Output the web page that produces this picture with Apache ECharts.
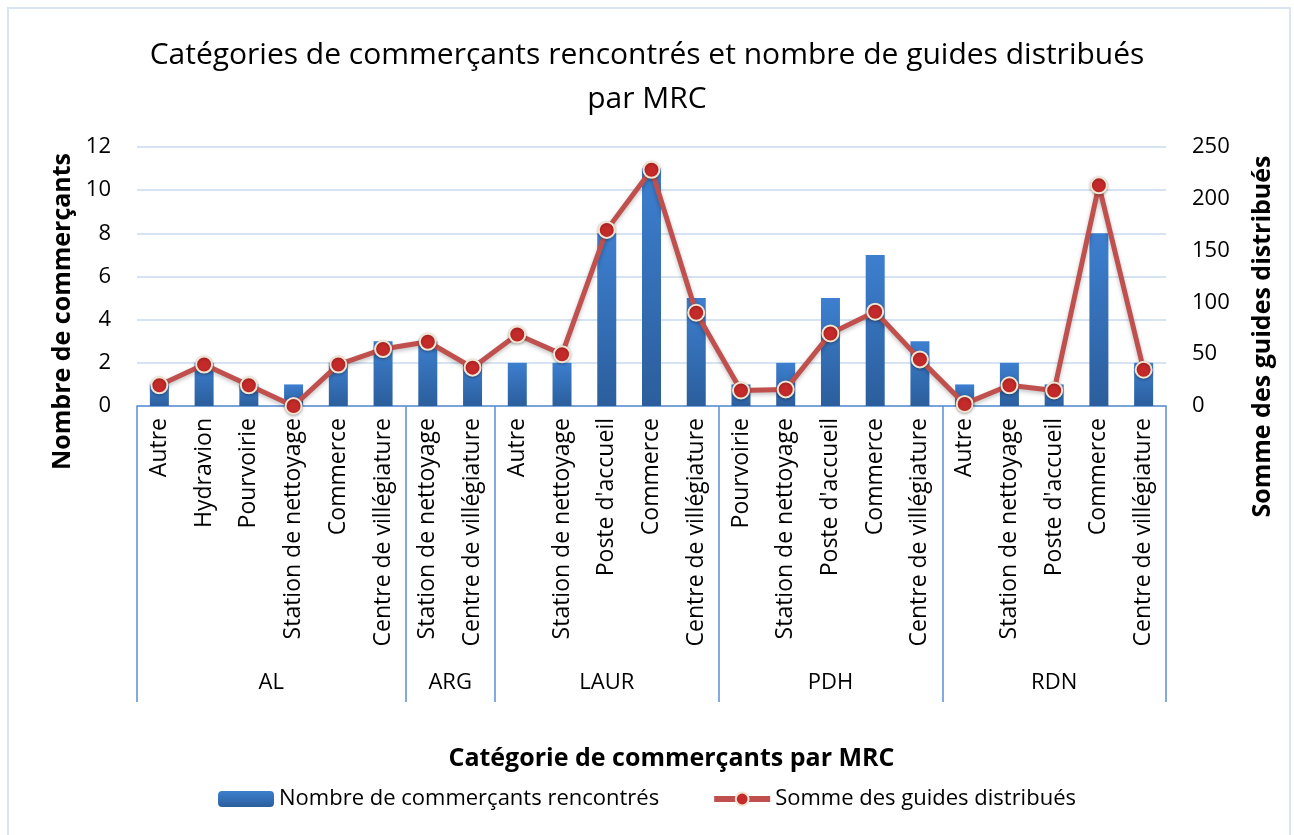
<!DOCTYPE html>
<html>
<head>
<meta charset="utf-8">
<script src="https://cdn.jsdelivr.net/npm/echarts@6/dist/echarts.min.js"></script>
<style>
  html, body { margin: 0; padding: 0; background: #ffffff; }
  #chart { width: 1294px; height: 835px; }
</style>
</head>
<body>
<div id="chart"></div>
<script>
const categories = [
  "Autre", "Hydravion", "Pourvoirie", "Station de nettoyage", "Commerce", "Centre de villégiature",
  "Station de nettoyage", "Centre de villégiature",
  "Autre", "Station de nettoyage", "Poste d'accueil", "Commerce", "Centre de villégiature",
  "Pourvoirie", "Station de nettoyage", "Poste d'accueil", "Commerce", "Centre de villégiature",
  "Autre", "Station de nettoyage", "Poste d'accueil", "Commerce", "Centre de villégiature"
];
const groupNames = ["AL", "ARG", "LAUR", "PDH", "RDN"];
const groupSizes = [6, 2, 5, 5, 5];
const commercants = [1, 2, 1, 1, 2, 3, 3, 2, 2, 2, 8, 11, 5, 1, 2, 5, 7, 3, 1, 2, 1, 8, 2];
const guides = [20, 40, 20, 0, 40, 55, 62, 37, 69, 50, 170, 228, 90, 15, 16, 70, 91, 45, 2, 20, 15, 213, 35];
const leftTicks = { min: 0, max: 12, interval: 2 };
const rightTicks = { min: 0, max: 250, interval: 50 };

const FONT = "Open Sans";
const BOX = "#5b8fd3";

// group boundaries and centres on a 0..n value axis laid over the category axis
var bounds = [0];
var centers = [];
for (var i = 0; i < groupSizes.length; i++) {
  var start = bounds[bounds.length - 1];
  centers.push(start + groupSizes[i] / 2);
  bounds.push(start + groupSizes[i]);
}

var chart = echarts.init(document.getElementById("chart"));
chart.setOption({
  backgroundColor: "#ffffff",
  animation: false,
  textStyle: { fontFamily: FONT, color: "#000000" },
  title: {
    text: "Catégories de commerçants rencontrés et nombre de guides distribués\npar MRC",
    left: "center",
    top: 28,
    textStyle: {
      fontFamily: FONT,
      fontWeight: "normal",
      fontSize: 30,
      lineHeight: 44,
      color: "#000000"
    }
  },
  graphic: [
    {
      type: "rect",
      shape: { x: 8, y: 8, width: 1282, height: 840 },
      style: { fill: null, stroke: "#dbe5f1", lineWidth: 2 },
      silent: true
    }
  ],
  legend: {
    bottom: 20,
    left: "center",
    itemGap: 52,
    itemWidth: 56,
    itemHeight: 16,
    textStyle: { fontFamily: FONT, fontSize: 22, color: "#000000" },
    data: [
      { name: "Nombre de commerçants rencontrés" },
      {
        name: "Somme des guides distribués",
        lineStyle: { width: 6, color: "#c0504d" },
        itemStyle: { color: "#c42a29", borderColor: "#f1e4d2", borderWidth: 2 }
      }
    ]
  },
  grid: {
    left: 137,
    right: 128,
    top: 147,
    bottom: 429,
    containLabel: false,
    outerBoundsMode: "none"
  },
  xAxis: [
    {
      type: "category",
      data: categories,
      position: "bottom",
      axisLine: { lineStyle: { color: BOX, width: 1.5 } },
      axisTick: { show: false },
      axisLabel: {
        interval: 0,
        rotate: 90,
        margin: 12,
        fontFamily: FONT,
        fontSize: 23,
        color: "#000000"
      }
    },
    {
      type: "value",
      position: "bottom",
      min: 0,
      max: bounds[bounds.length - 1],
      name: "Catégorie de commerçants par MRC",
      nameLocation: "middle",
      nameGap: 340,
      nameTextStyle: {
        fontFamily: FONT,
        fontSize: 25,
        fontWeight: "bold",
        color: "#000000",
        padding: [0, 0, 0, 40]
      },
      splitLine: { show: false },
      axisLine: { show: false },
      axisTick: {
        show: true,
        customValues: bounds,
        length: 296,
        lineStyle: { color: BOX, width: 1.5 }
      },
      axisLabel: {
        customValues: centers,
        margin: 266,
        fontFamily: FONT,
        fontSize: 22,
        color: "#000000",
        formatter: function (v) {
          for (var k = 0; k < centers.length; k++) {
            if (Math.abs(centers[k] - v) < 1e-6) return groupNames[k];
          }
          return "";
        }
      }
    }
  ],
  yAxis: [
    {
      type: "value",
      min: leftTicks.min,
      max: leftTicks.max,
      interval: leftTicks.interval,
      name: "Nombre de commerçants",
      nameLocation: "middle",
      nameRotate: 90,
      nameGap: 62,
      nameTextStyle: {
        fontFamily: FONT,
        fontSize: 25,
        fontWeight: "bold",
        color: "#000000",
        padding: [0, 70, 0, 0]
      },
      axisLine: { show: false },
      axisTick: { show: false },
      axisLabel: { margin: 26, fontFamily: FONT, fontSize: 22, color: "#000000" },
      splitLine: { lineStyle: { color: "#d6e3f3", width: 2 } }
    },
    {
      type: "value",
      min: rightTicks.min,
      max: rightTicks.max,
      interval: rightTicks.interval,
      position: "right",
      name: "Somme des guides distribués",
      nameLocation: "middle",
      nameRotate: 90,
      nameGap: 84,
      nameTextStyle: {
        fontFamily: FONT,
        fontSize: 25,
        fontWeight: "bold",
        color: "#000000",
        padding: [0, 120, 0, 0]
      },
      axisLine: { show: false },
      axisTick: { show: false },
      axisLabel: { margin: 26, fontFamily: FONT, fontSize: 22, color: "#000000" },
      splitLine: { show: false }
    }
  ],
  series: [
    {
      name: "Nombre de commerçants rencontrés",
      type: "bar",
      xAxisIndex: 0,
      yAxisIndex: 0,
      barWidth: 19,
      data: commercants,
      itemStyle: {
        color: new echarts.graphic.LinearGradient(0, 0, 0, 1, [
          { offset: 0, color: "#3d7fcf" },
          { offset: 1, color: "#2b5e9c" }
        ])
      }
    },
    {
      name: "Somme des guides distribués",
      type: "line",
      xAxisIndex: 0,
      yAxisIndex: 1,
      data: guides,
      symbol: "circle",
      symbolSize: 16,
      lineStyle: {
        color: "#c0504d",
        width: 5,
        shadowColor: "rgba(0,0,0,0.25)",
        shadowBlur: 4,
        shadowOffsetY: 2
      },
      itemStyle: {
        color: "#c42a29",
        borderColor: "#f1e4d2",
        borderWidth: 2,
        shadowColor: "rgba(0,0,0,0.3)",
        shadowBlur: 3,
        shadowOffsetY: 1
      },
      z: 3
    }
  ]
});
</script>
</body>
</html>
